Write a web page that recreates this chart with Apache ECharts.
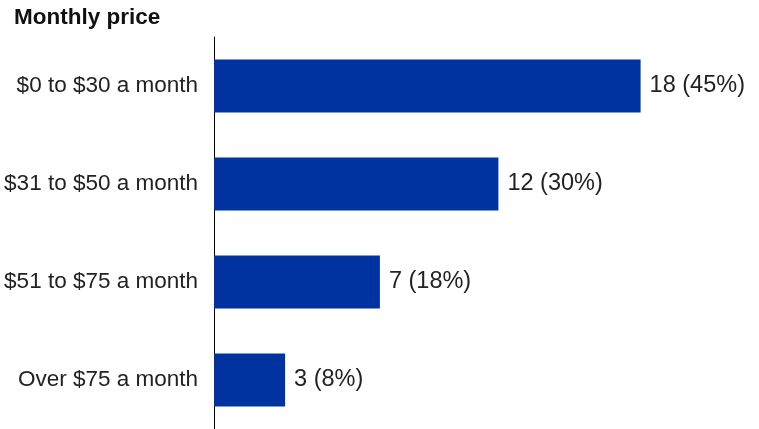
<!DOCTYPE html>
<html><head><meta charset="utf-8">
<script src="https://cdn.jsdelivr.net/npm/echarts@6/dist/echarts.min.js"></script>
<style>html,body{margin:0;padding:0;background:#fff}#c{width:759px;height:429px}</style>
</head><body><div id="c"></div>
<script>
const categories = ["$0 to $30 a month", "$31 to $50 a month", "$51 to $75 a month", "Over $75 a month"];
const counts = [18, 12, 7, 3];
const percents = [45, 30, 18, 8];
const titleText = "Monthly price";

const chart = echarts.init(document.getElementById('c'));
chart.setOption({
  animation: false,
  title: {text: titleText, left: 9, top: 1, textStyle: {fontFamily: 'Liberation Sans, Arial', fontSize: 22.5, fontWeight: 'bold', color: '#111'}},
  grid: {left: 214, right: 71, top: 37, bottom: 0, containLabel: false},
  xAxis: {type: 'value', min: 0, max: 20, show: false},
  yAxis: {type: 'category', data: categories, inverse: true,
    axisLine: {show: true, lineStyle: {color: '#000', width: 1}},
    axisTick: {show: false},
    axisLabel: {fontFamily: 'Liberation Sans, Arial', fontSize: 22.5, color: '#222', margin: 16}},
  series: [{type: 'bar', data: counts, barWidth: 53,
    itemStyle: {color: '#0033a0'},
    label: {show: true, position: 'right', distance: 9, fontFamily: 'Liberation Sans, Arial', fontSize: 23.5, color: '#222',
      formatter: p => p.value + ' (' + percents[p.dataIndex] + '%)'}}]
});
</script></body></html>
